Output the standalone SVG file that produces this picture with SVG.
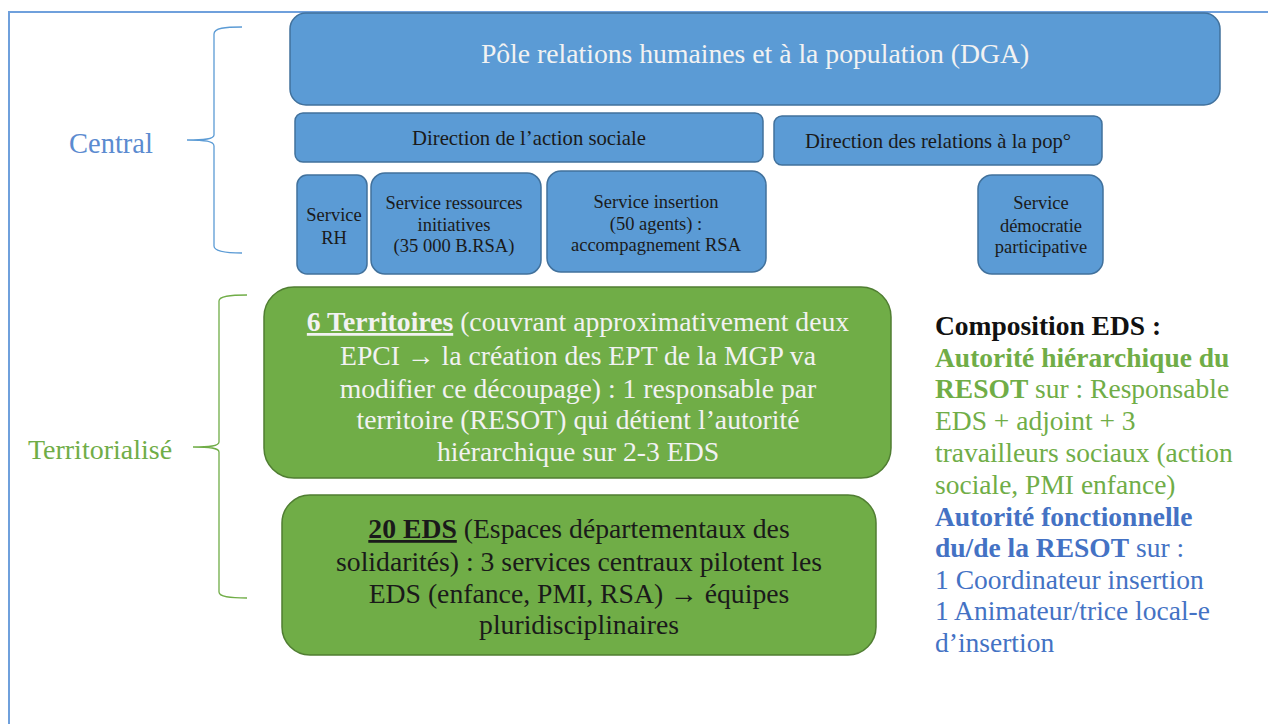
<svg xmlns="http://www.w3.org/2000/svg" width="1268" height="724" viewBox="0 0 1268 724" font-family="'Liberation Serif','Times New Roman',serif">
<style>
.bbox{fill:#5b9bd5;stroke:#41719c;stroke-width:1.5}
.gbox{fill:#70ad47;stroke:#507e32;stroke-width:1.5}
.t{text-anchor:middle}
.dark{fill:#1a1a1a}
.wht{fill:#f2f2f2}
.rt{font-size:27.5px}
.brace{fill:none;stroke-width:1.3}
</style>
<rect width="1268" height="724" fill="#ffffff"/>
<g id="frame">
<path d="M9,724 V12 H1268" fill="none" stroke="#6fa0dc" stroke-width="2"/>
</g>
<g id="connectors">
<path class="brace" stroke="#5b9bd5" d="M242,27 C225,27 214,28 214,34 V135 C214,139 205,140 187,140 C205,140 214,141 214,146 V246 C214,251 225,253 242,253"/>
<path class="brace" stroke="#70ad47" d="M247,295 C230,295 219,296 219,301 V442 C219,446 210,447 193,447 C210,447 219,448 219,452 V592 C219,597 230,598 247,598"/>
</g>
<g id="label-central"><text class="t" x="111" y="153" style="font-size:28.5px;fill:#5b8bd0">Central</text></g>
<g id="label-territorialise"><text class="t" x="100" y="459" style="font-size:28px;fill:#70ad47">Territorialisé</text></g>
<g id="pole">
<rect class="bbox" x="290" y="13" width="930" height="92" rx="16"/>
<text class="t wht" x="755" y="63" style="font-size:27.7px">Pôle relations humaines et à la population (DGA)</text>
</g>
<g id="dir-action-sociale">
<rect class="bbox" x="295" y="113" width="468" height="49" rx="8"/>
<text class="t dark" x="529" y="145" style="font-size:20.7px">Direction de l’action sociale</text>
</g>
<g id="dir-relations-pop">
<rect class="bbox" x="774" y="116" width="328" height="49" rx="8"/>
<text class="t dark" x="938" y="148" style="font-size:20.7px">Direction des relations à la pop°</text>
</g>
<g id="service-rh">
<rect class="bbox" x="297" y="175" width="70" height="99" rx="10"/>
<text class="t dark" x="334" y="221" style="font-size:18.5px">Service</text>
<text class="t dark" x="334" y="244" style="font-size:18.5px">RH</text>
</g>
<g id="service-ressources">
<rect class="bbox" x="371" y="173" width="170" height="101" rx="14"/>
<text class="t dark" x="454" y="209" style="font-size:18.5px">Service ressources</text>
<text class="t dark" x="454" y="231" style="font-size:18.5px">initiatives</text>
<text class="t dark" x="454" y="252" style="font-size:18.5px">(35 000 B.RSA)</text>
</g>
<g id="service-insertion">
<rect class="bbox" x="547" y="171" width="219" height="101" rx="14"/>
<text class="t dark" x="656" y="208" style="font-size:18.5px">Service insertion</text>
<text class="t dark" x="656" y="230" style="font-size:18.5px">(50 agents) :</text>
<text class="t dark" x="656" y="251" style="font-size:18.5px">accompagnement RSA</text>
</g>
<g id="service-democratie">
<rect class="bbox" x="978" y="175" width="125" height="99" rx="14"/>
<text class="t dark" x="1041" y="209" style="font-size:18.5px">Service</text>
<text class="t dark" x="1041" y="232" style="font-size:18.5px">démocratie</text>
<text class="t dark" x="1041" y="253" style="font-size:18.5px">participative</text>
</g>
<g id="territoires">
<rect class="gbox" x="264" y="287" width="627" height="191" rx="30"/>
<g class="t wht" style="font-size:27.7px">
<text x="578" y="331"><tspan font-weight="bold" text-decoration="underline">6 Territoires</tspan> (couvrant approximativement deux</text>
<text x="578" y="365">EPCI →  la création des EPT de la MGP va</text>
<text x="578" y="398">modifier ce découpage) : 1 responsable par</text>
<text x="578" y="429">territoire (RESOT) qui détient l’autorité</text>
<text x="578" y="461">hiérarchique sur 2-3 EDS</text>
</g>
</g>
<g id="eds">
<rect class="gbox" x="282" y="495" width="594" height="160" rx="28"/>
<g class="t dark" style="font-size:27.7px">
<text x="579" y="538"><tspan font-weight="bold" text-decoration="underline">20 EDS</tspan> (Espaces départementaux des</text>
<text x="579" y="571">solidarités) : 3 services centraux pilotent les</text>
<text x="579" y="603">EDS (enfance, PMI, RSA) →  équipes</text>
<text x="579" y="634">pluridisciplinaires</text>
</g>
</g>
<g id="composition-eds" class="rt">
<text x="935" y="335" font-weight="bold" fill="#111111">Composition EDS :</text>
<text x="935" y="367" font-weight="bold" fill="#70ad47">Autorité hiérarchique du</text>
<text x="935" y="398" fill="#70ad47"><tspan font-weight="bold">RESOT</tspan> sur : Responsable</text>
<text x="935" y="430" fill="#70ad47">EDS + adjoint + 3</text>
<text x="935" y="462" fill="#70ad47">travailleurs sociaux (action</text>
<text x="935" y="494" fill="#70ad47">sociale, PMI enfance)</text>
<text x="935" y="526" font-weight="bold" fill="#4472c4">Autorité fonctionnelle</text>
<text x="935" y="557" fill="#4472c4"><tspan font-weight="bold">du/de la RESOT</tspan> sur :</text>
<text x="935" y="589" fill="#4472c4">1 Coordinateur insertion</text>
<text x="935" y="620" fill="#4472c4">1 Animateur/trice local-e</text>
<text x="935" y="652" fill="#4472c4">d’insertion</text>
</g>
</svg>
